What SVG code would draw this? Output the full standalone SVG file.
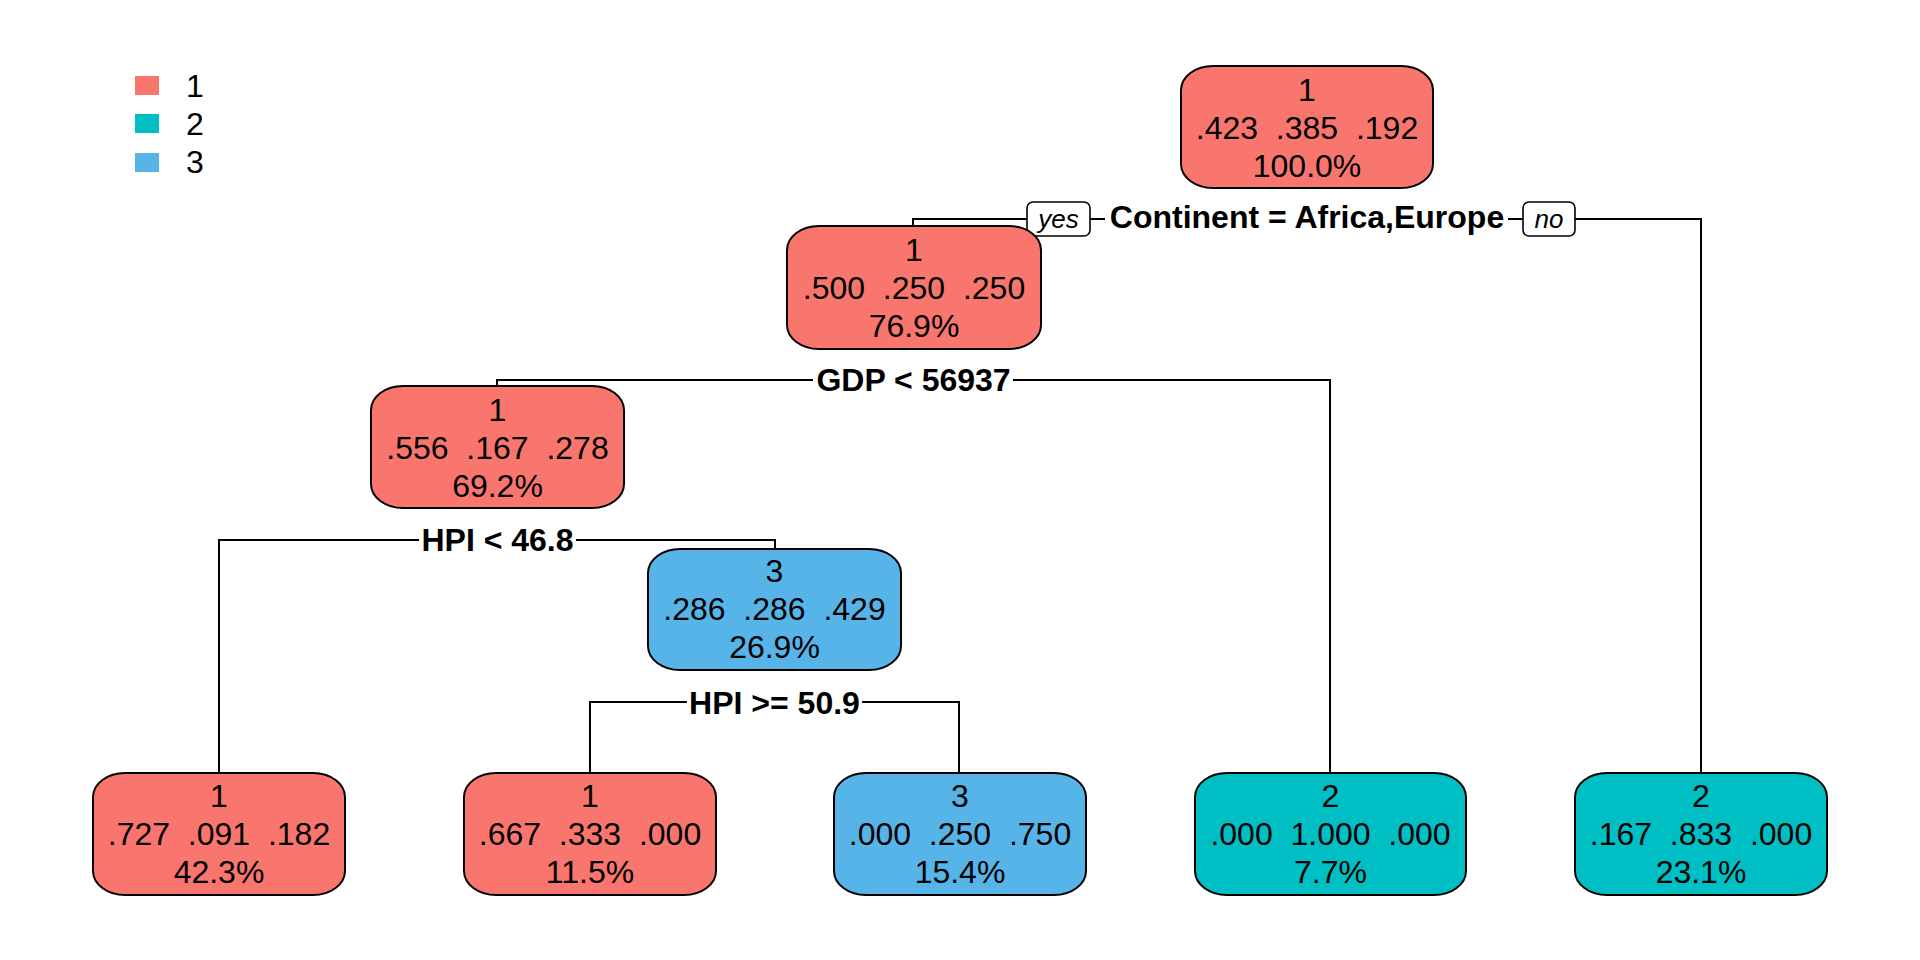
<svg xmlns="http://www.w3.org/2000/svg" width="1920" height="960" viewBox="0 0 1920 960">
<style>
text{font-family:"Liberation Sans",Arial,Helvetica,sans-serif;fill:#000}
.t{font-size:32px;text-anchor:middle;white-space:pre}
.lg{font-size:32px}
.sp{font-size:32px;font-weight:bold;text-anchor:middle}
.yn{font-size:26px;font-style:italic;text-anchor:middle}
.box{stroke:#000;stroke-width:2}
.c1{fill:#F8766D}.c2{fill:#00BFC4}.c3{fill:#56B4E9}
.ln{fill:none;stroke:#000;stroke-width:2}
.lab{fill:#fff;stroke:#000;stroke-width:1.6}
</style>
<rect width="1920" height="960" fill="#fff"/>
<g id="legend">
<rect class="c1" x="135" y="76" width="24" height="19"/>
<rect class="c2" x="135" y="114" width="24" height="19"/>
<rect class="c3" x="135" y="153" width="24" height="19"/>
<text class="lg" x="186" y="97">1</text>
<text class="lg" x="186" y="135">2</text>
<text class="lg" x="186" y="173">3</text>
</g>
<g id="connectors">
<path class="ln" d="M913,226V219H1027M1090,219H1105M1508,219H1523M1575,219H1701V772"/>
<path class="ln" d="M497,386V380H813M1013,380H1330V773"/>
<path class="ln" d="M219,773V540H419M576,540H775V549"/>
<path class="ln" d="M590,773V702H687M862,702H959V773"/>
<rect class="lab" x="1027" y="202" width="63" height="34" rx="6"/>
<text class="yn" x="1058.5" y="228">yes</text>
<rect class="lab" x="1523" y="202" width="52" height="34" rx="6"/>
<text class="yn" x="1549" y="228">no</text>
<text class="sp" x="1307" y="228">Continent = Africa,Europe</text>
<text class="sp" x="913.5" y="391">GDP &lt; 56937</text>
<text class="sp" x="497.5" y="551">HPI &lt; 46.8</text>
<text class="sp" x="774.5" y="714">HPI &gt;= 50.9</text>
</g>
<g id="node1">
<rect class="box c1" x="1181" y="66" width="252" height="122" rx="32" ry="24"/>
<text class="t" x="1307" y="101">1</text>
<text class="t" x="1307" y="139">.423  .385  .192</text>
<text class="t" x="1307" y="177">100.0%</text>
</g>
<g id="node2">
<rect class="box c1" x="787" y="226" width="254" height="123" rx="32" ry="24"/>
<text class="t" x="914" y="261">1</text>
<text class="t" x="914" y="299">.500  .250  .250</text>
<text class="t" x="914" y="337">76.9%</text>
</g>
<g id="node4">
<rect class="box c1" x="371" y="386" width="253" height="122" rx="32" ry="24"/>
<text class="t" x="497.5" y="421">1</text>
<text class="t" x="497.5" y="459">.556  .167  .278</text>
<text class="t" x="497.5" y="497">69.2%</text>
</g>
<g id="node9">
<rect class="box c3" x="648" y="549" width="253" height="121" rx="32" ry="24"/>
<text class="t" x="774.5" y="582">3</text>
<text class="t" x="774.5" y="620">.286  .286  .429</text>
<text class="t" x="774.5" y="658">26.9%</text>
</g>
<g id="leaf8">
<rect class="box c1" x="93" y="773" width="252" height="122" rx="32" ry="24"/>
<text class="t" x="219" y="807">1</text>
<text class="t" x="219" y="845">.727  .091  .182</text>
<text class="t" x="219" y="883">42.3%</text>
</g>
<g id="leaf18">
<rect class="box c1" x="464" y="773" width="252" height="122" rx="32" ry="24"/>
<text class="t" x="590" y="807">1</text>
<text class="t" x="590" y="845">.667  .333  .000</text>
<text class="t" x="590" y="883">11.5%</text>
</g>
<g id="leaf19">
<rect class="box c3" x="834" y="773" width="252" height="122" rx="32" ry="24"/>
<text class="t" x="960" y="807">3</text>
<text class="t" x="960" y="845">.000  .250  .750</text>
<text class="t" x="960" y="883">15.4%</text>
</g>
<g id="leaf5">
<rect class="box c2" x="1195" y="773" width="271" height="122" rx="32" ry="24"/>
<text class="t" x="1330.5" y="807">2</text>
<text class="t" x="1330.5" y="845">.000  1.000  .000</text>
<text class="t" x="1330.5" y="883">7.7%</text>
</g>
<g id="leaf3">
<rect class="box c2" x="1575" y="773" width="252" height="122" rx="32" ry="24"/>
<text class="t" x="1701" y="807">2</text>
<text class="t" x="1701" y="845">.167  .833  .000</text>
<text class="t" x="1701" y="883">23.1%</text>
</g>
</svg>
